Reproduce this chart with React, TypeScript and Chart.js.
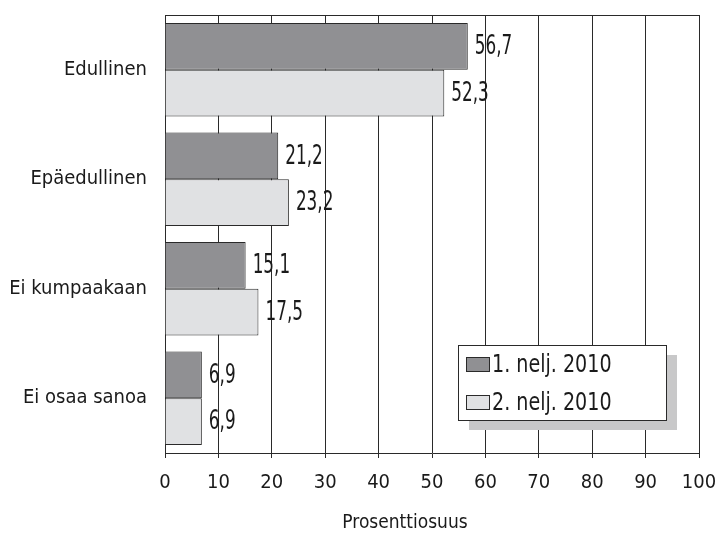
import React, { useEffect, useRef } from "react";
import { Chart, registerables } from "chart.js";

Chart.register(...registerables);

const categories = ["Edullinen", "Epäedullinen", "Ei kumpaakaan", "Ei osaa sanoa"];
const seriesLabels = ["1. nelj. 2010", "2. nelj. 2010"];
const q1Values = [56.7, 21.2, 15.1, 6.9];
const q2Values = [52.3, 23.2, 17.5, 6.9];
const xMax = 100;
const xStep = 10;
const axisTitle = "Prosenttiosuus";

const FONT = "'DejaVu Sans Condensed', 'Liberation Sans Narrow', sans-serif";
const DARK = "#909093";
const LIGHT = "#e0e1e3";
const LINE = "#2a2a2a";
const TEXT = "#1a1a1a";

const fmt = (v: number) => v.toFixed(1).replace(".", ",");

function narrowText(ctx: any, text: string, x: number, y: number, sx: number) {
  ctx.save();
  ctx.translate(x, y);
  ctx.scale(sx, 1);
  ctx.fillText(text, 0, 0);
  ctx.restore();
}

const extrasPlugin = {
  id: "extras",
  afterDatasetsDraw(chart: any) {
    const { ctx, chartArea } = chart;
    ctx.save();
    // top border
    ctx.strokeStyle = LINE;
    ctx.lineWidth = 1;
    ctx.beginPath();
    ctx.moveTo(chartArea.left, Math.round(chartArea.top) + 0.5);
    ctx.lineTo(chartArea.right, Math.round(chartArea.top) + 0.5);
    ctx.stroke();
    // data labels
    ctx.font = `26px ${FONT}`;
    ctx.fillStyle = TEXT;
    ctx.textAlign = "left";
    ctx.textBaseline = "middle";
    chart.data.datasets.forEach((ds: any, di: number) => {
      const meta = chart.getDatasetMeta(di);
      meta.data.forEach((bar: any, i: number) => {
        narrowText(ctx, fmt(ds.data[i]), bar.x + 7, bar.y + 1, 0.72);
      });
    });
    // legend
    const bx = chartArea.right - 241;
    const by = chartArea.bottom - 108;
    const bw = 208;
    const bh = 75;
    ctx.fillStyle = "#c8c8c9";
    ctx.fillRect(bx + 11, by + 10, bw, bh);
    ctx.fillStyle = "#ffffff";
    ctx.fillRect(bx, by, bw, bh);
    ctx.strokeStyle = LINE;
    ctx.strokeRect(Math.round(bx) + 0.5, Math.round(by) + 0.5, bw, bh);
    const colors = [DARK, LIGHT];
    seriesLabels.forEach((lab, i) => {
      const cy = by + 19 + i * 38;
      ctx.fillStyle = colors[i];
      ctx.fillRect(bx + 8, cy - 7, 23, 14);
      ctx.strokeStyle = LINE;
      ctx.strokeRect(Math.round(bx + 8) + 0.5, Math.round(cy - 7) + 0.5, 23, 14);
      ctx.fillStyle = TEXT;
      ctx.font = `25px ${FONT}`;
      ctx.textBaseline = "middle";
      narrowText(ctx, lab, bx + 34, cy + 1, 0.85);
    });
    // axis title
    ctx.font = `19px ${FONT}`;
    ctx.fillStyle = TEXT;
    ctx.textAlign = "center";
    ctx.textBaseline = "middle";
    narrowText(ctx, axisTitle, 405, 523, 1);
    ctx.restore();
  },
};

export default function App() {
  const ref = useRef<HTMLCanvasElement | null>(null);
  useEffect(() => {
    document.body.style.margin = "0";
    const chart = new Chart(ref.current as HTMLCanvasElement, {
      type: "bar",
      data: {
        labels: categories,
        datasets: [
          {
            label: seriesLabels[0],
            data: q1Values,
            backgroundColor: DARK,
            borderColor: LINE,
            borderWidth: 1,
            borderSkipped: "start",
            categoryPercentage: 0.852,
            barPercentage: 1,
          },
          {
            label: seriesLabels[1],
            data: q2Values,
            backgroundColor: LIGHT,
            borderColor: LINE,
            borderWidth: 1,
            borderSkipped: "start",
            categoryPercentage: 0.852,
            barPercentage: 1,
          },
        ],
      },
      options: {
        indexAxis: "y",
        animation: false,
        responsive: false,
        maintainAspectRatio: false,
        layout: { padding: { top: 15, right: 16, left: 0, bottom: 0 } },
        plugins: { legend: { display: false }, tooltip: { enabled: false } },
        scales: {
          x: {
            min: 0,
            max: xMax,
            ticks: {
              stepSize: xStep,
              color: TEXT,
              font: { family: FONT, size: 20 },
              padding: 13,
            },
            grid: { color: LINE, lineWidth: 1, tickLength: 5, drawTicks: true },
            border: { color: LINE, width: 1 },
            title: { display: false },
            afterFit: (scale: any) => {
              scale.height = 83;
              scale.paddingLeft = 0;
              scale.paddingRight = 0;
            },
          },
          y: {
            ticks: {
              color: TEXT,
              font: { family: FONT, size: 20 },
              padding: 18,
            },
            grid: { display: false, drawTicks: false },
            border: { color: LINE, width: 1 },
            afterFit: (scale: any) => {
              scale.width = 165;
              scale.paddingTop = 0;
              scale.paddingBottom = 0;
            },
          },
        },
      },
      plugins: [extrasPlugin],
    } as any);
    return () => chart.destroy();
  }, []);
  return (
    <div style={{ width: 715, height: 536, background: "#fff" }}>
      <canvas ref={ref} width={715} height={536} />
    </div>
  );
}
